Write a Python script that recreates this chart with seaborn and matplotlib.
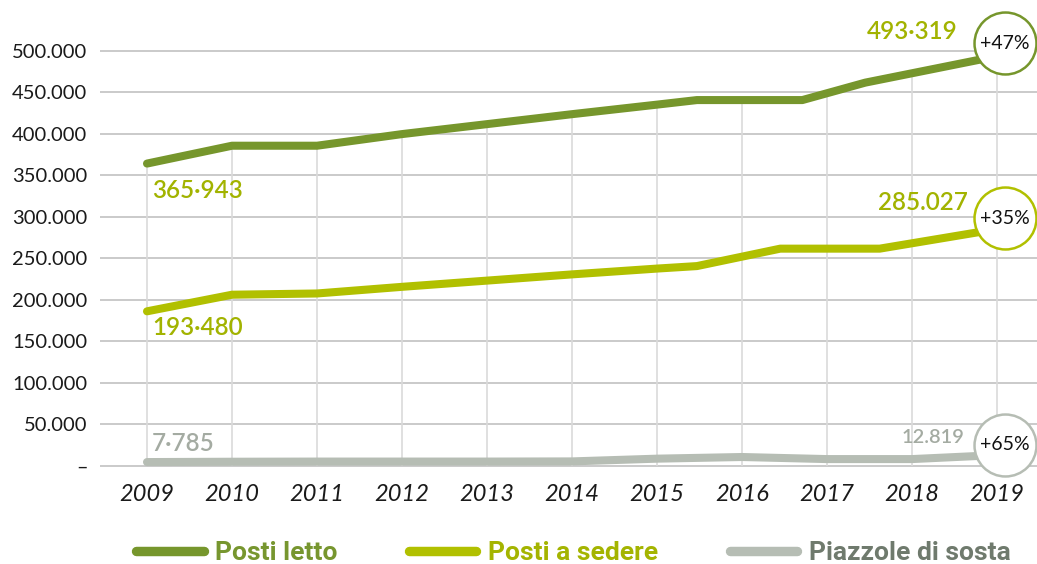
import numpy as np
import pandas as pd
import seaborn as sns
import matplotlib.pyplot as plt
from matplotlib.lines import Line2D
from matplotlib.ticker import FuncFormatter

# data (x positions of the kinks are not always on a year)
letto_x = [2009, 2010, 2011, 2012, 2013, 2014, 2015, 2015.47, 2016.71, 2017.45, 2019]
letto_y = [364000, 385500, 385500, 399500, 411500, 423500, 435000, 440500, 440500, 461500, 493319]
sedere_x = [2009, 2010, 2011, 2012, 2013, 2014, 2015, 2015.47, 2016.45, 2017.62, 2019]
sedere_y = [186000, 206000, 207500, 215500, 223000, 230500, 237500, 240500, 261500, 261500, 285027]
sosta_x = [2009, 2010, 2011, 2012, 2013, 2014, 2015, 2016, 2017, 2018, 2019]
sosta_y = [4400, 4800, 5000, 5000, 5000, 5200, 8500, 10500, 8000, 8000, 12819]

years = list(range(2009, 2020))
series = ["Posti letto", "Posti a sedere", "Piazzole di sosta"]
line_colors = ["#76962c", "#b1c000", "#b6bdb4"]
text_colors = ["#77962f", "#a4b400", "#6f7a6d"]
growth = ["+47%", "+35%", "+65%"]
circle_y = [508700, 298400, 25500]

sns.set_theme(style="white")
plt.rcParams['font.family'] = ['Lato', 'DejaVu Sans']

df = pd.concat([
    pd.DataFrame({"anno": letto_x, "valore": letto_y, "serie": series[0]}),
    pd.DataFrame({"anno": sedere_x, "valore": sedere_y, "serie": series[1]}),
    pd.DataFrame({"anno": sosta_x, "valore": sosta_y, "serie": series[2]}),
])

fig = plt.figure(figsize=(10.37, 5.64), dpi=100)
ax = fig.add_axes([100 / 1037, 84 / 564, 937 / 1037, 470 / 564])

# drop lines from the top series
tops = np.interp(years, letto_x, letto_y)
ax.vlines(years, 0, tops, color="#dadada", lw=1.2, zorder=1)

sns.lineplot(data=df, x="anno", y="valore", hue="serie", hue_order=series,
             palette=line_colors, estimator=None, sort=False, linewidth=5.8,
             ax=ax, legend=False, zorder=3)
for ln in ax.lines:
    ln.set_solid_capstyle("round")
    ln.set_solid_joinstyle("round")

ax.set_xlim(2009 - 47 / 85, 2019 + 40 / 85)
ax.set_ylim(-17200, 549000)
ax.set_yticks(range(0, 500001, 50000))
ax.yaxis.set_major_formatter(FuncFormatter(
    lambda v, p: "–" if v == 0 else f"{int(v):,}".replace(",", ".")))
ax.set_xticks(years)
ax.set_xticklabels([str(y) for y in years], fontsize=17, style="italic", color="#1a1a1a")
ax.tick_params(axis="y", labelsize=14.5, colors="#1a1a1a", length=0, pad=9)
ax.tick_params(axis="x", length=0, pad=3)
ax.yaxis.grid(True, color="#c6c6c6", lw=1.3, zorder=0)
ax.set_axisbelow(True)
for s in ax.spines.values():
    s.set_visible(False)
ax.set_xlabel("")
ax.set_ylabel("")

# value labels
lab_kw = dict(fontsize=17.5, fontweight="semibold", va="center")
ax.text(2009.06, 332000, "365·943", color="#a2b300", ha="left", **lab_kw)
ax.text(2009.06, 166000, "193·480", color="#a2b300", ha="left", **lab_kw)
ax.text(2009.06, 27300, "7·785", color="#a4aba2", ha="left", **lab_kw)
ax.text(2018.54, 522500, "493·319", color="#a2b300", ha="right", **lab_kw)
ax.text(2018.66, 317700, "285.027", color="#a2b300", ha="right", **lab_kw)
ax.text(2018.62, 33700, "12.819", color="#a4aba2", ha="right",
        fontsize=14.5, fontweight="semibold", va="center")

# growth circles
for cy, col, g in zip(circle_y, line_colors, growth):
    ax.scatter([2019.09], [cy], s=1990, facecolor="white", edgecolor=col,
               linewidth=1.8, zorder=5, clip_on=False)
    ax.text(2019.09, cy, g, ha="center", va="center", fontsize=14,
            color="#111111", zorder=6)

handles = [Line2D([0], [0], color=c, lw=6.8, solid_capstyle="round") for c in line_colors]
leg = fig.legend(handles, series, loc="center", bbox_to_anchor=(0.553, 11 / 564),
                 ncol=3, frameon=False, handlelength=2.55, handletextpad=0.45,
                 columnspacing=2.7, prop=dict(size=19, weight="bold", family="Roboto"))
for t, c in zip(leg.get_texts(), text_colors):
    t.set_color(c)

fig.savefig("out.png", dpi=100)
